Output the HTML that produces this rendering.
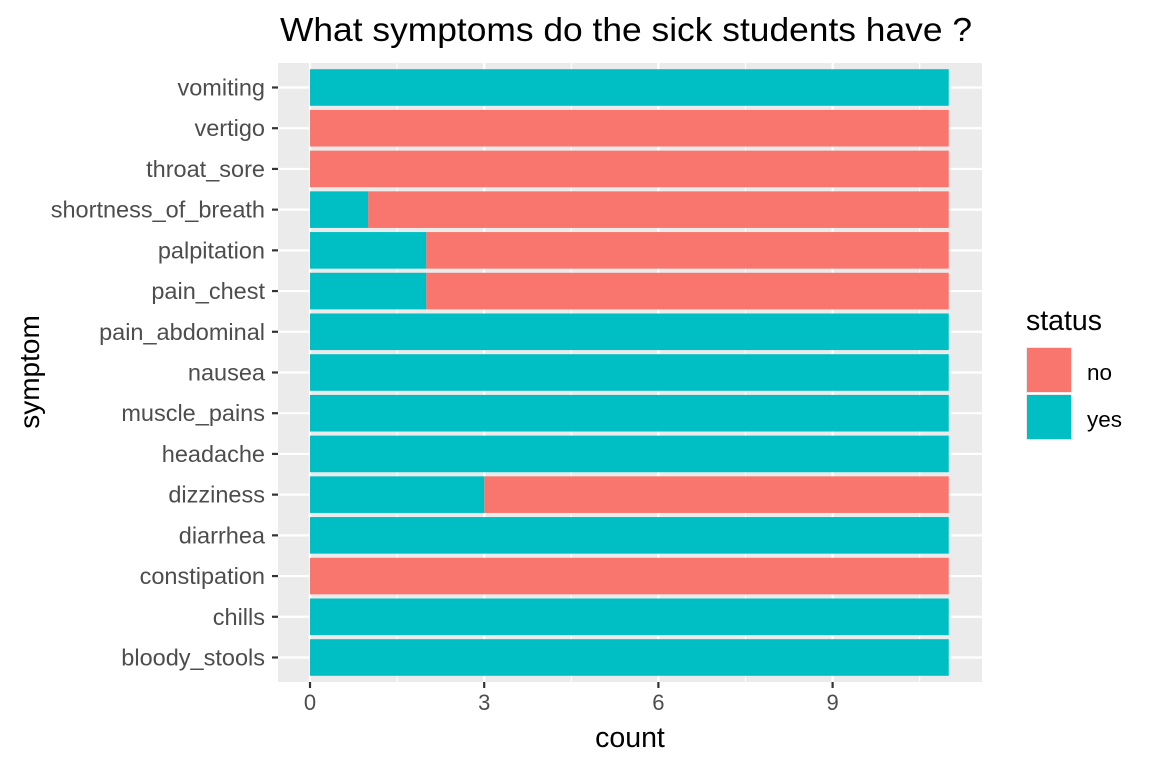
<!DOCTYPE html>
<html><head><style>body{margin:0;background:#fff}svg{display:block}text{font-family:"Liberation Sans",sans-serif}</style></head><body>
<svg width="1152" height="768" xmlns="http://www.w3.org/2000/svg">
<rect width="1152" height="768" fill="#fff"/>
<text x="626" y="41" font-size="33" text-anchor="middle" fill="#000" textLength="692" lengthAdjust="spacingAndGlyphs">What symptoms do the sick students have ?</text>
<rect x="278" y="63" width="704" height="619" fill="#EBEBEB"/>
<g stroke="#fff" stroke-width="1.1">
<line x1="397.1" y1="63" x2="397.1" y2="682"/><line x1="571.3" y1="63" x2="571.3" y2="682"/><line x1="745.5" y1="63" x2="745.5" y2="682"/><line x1="919.7" y1="63" x2="919.7" y2="682"/>
</g>
<g stroke="#fff" stroke-width="2.2" id="g"></g>
<g id="bars"></g>
<g id="lab" font-size="23.5" fill="#4D4D4D" text-anchor="end"></g>
<g id="tk" stroke="#333" stroke-width="2.2"></g>
<g font-size="22" fill="#4D4D4D" text-anchor="middle">
<text x="310" y="710">0</text><text x="484.2" y="710">3</text><text x="658.4" y="710">6</text><text x="832.6" y="710">9</text></g>
<text x="630" y="747" font-size="28.5" text-anchor="middle" fill="#000">count</text>
<text transform="translate(39,372) rotate(-90)" font-size="28" text-anchor="middle" fill="#000">symptom</text>
<text x="1026" y="330" font-size="28.5" fill="#000">status</text>
<rect x="1026" y="347" width="46" height="46" fill="#EBEBEB"/><rect x="1027" y="348" width="44" height="44" fill="#F8766D"/>
<rect x="1026" y="394" width="46" height="46" fill="#EBEBEB"/><rect x="1027" y="395" width="44" height="44" fill="#00BFC4"/>
<text x="1087" y="380" font-size="22.5" fill="#000">no</text>
<text x="1087" y="427" font-size="22.5" fill="#000">yes</text>
<script>
var d=[["vomiting",11],["vertigo",0],["throat_sore",0],["shortness_of_breath",1],["palpitation",2],["pain_chest",2],["pain_abdominal",11],["nausea",11],["muscle_pains",11],["headache",11],["dizziness",3],["diarrhea",11],["constipation",0],["chills",11],["bloody_stools",11]];
var ns="http://www.w3.org/2000/svg",u=58.067,x0=310;
function el(p,t,a,txt){var e=document.createElementNS(ns,t);for(var k in a)e.setAttribute(k,a[k]);if(txt)e.textContent=txt;document.getElementById(p).appendChild(e);}
for(var i=0;i<15;i++){var c=87.5+i*40.714,y=c-18.3;
el("g","line",{x1:278,x2:982,y1:c,y2:c});
if(d[i][1]<11)el("bars","rect",{x:x0+d[i][1]*u,y:y,width:(11-d[i][1])*u,height:36.6,fill:"#F8766D"});
if(d[i][1]>0)el("bars","rect",{x:x0,y:y,width:d[i][1]*u,height:36.6,fill:"#00BFC4"});
el("lab","text",{x:265,y:c+8},d[i][0]);
el("tk","line",{x1:272,x2:278,y1:c,y2:c});}
["310","484.2","658.4","832.6"].forEach(function(x){el("g","line",{x1:x,x2:x,y1:63,y2:682});});
[310,484.2,658.4,832.6].forEach(function(x){el("tk","line",{x1:x,x2:x,y1:682,y2:688});});
</script>
</svg>
</body></html>
